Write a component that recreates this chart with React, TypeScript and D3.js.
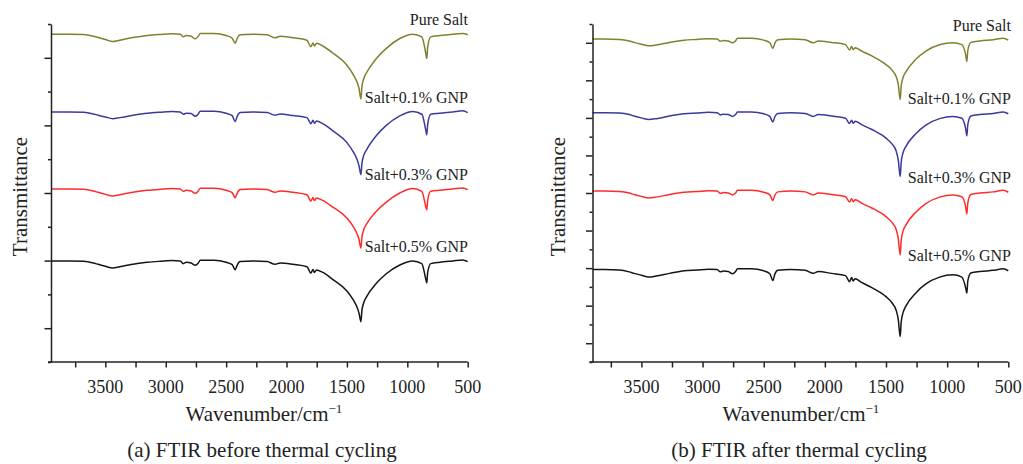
import React, { useEffect, useRef } from "react";
import * as d3 from "d3";

// wavenumber grid (cm-1) shared by every spectrum
const wavenumbers = [
  3950, 3800, 3680, 3600, 3560, 3500, 3440, 3380, 3270, 3150, 3045, 2950, 2880, 2855, 2830, 2790,
  2756, 2730, 2715, 2600, 2500, 2450, 2425, 2409, 2384, 2280, 2160, 2095, 2053, 1946, 1831, 1798,
  1781, 1769, 1752, 1700, 1616, 1500, 1450, 1417, 1400, 1384, 1376, 1360, 1339, 1256, 1174, 1062,
  954, 880, 847, 839, 831, 806, 731, 624, 541, 500,
];

const seriesNames = ["Pure Salt", "Salt+0.1% GNP", "Salt+0.3% GNP", "Salt+0.5% GNP"];
const seriesColors = ["#80802e", "#3a3a9c", "#ff2b2b", "#151515"];

// (a) before thermal cycling, offset transmittance (a.u.)
const beforePureSalt = [
  87.0, 87.0, 86.9, 86.4, 86.0, 85.4, 84.8, 85.2, 86.0, 86.6, 86.9, 87.1, 87.0, 86.2, 86.6, 86.4,
  85.6, 86.4, 87.2, 87.2, 86.6, 85.8, 84.3, 85.7, 86.8, 87.0, 86.8, 85.9, 86.4, 85.9, 85.2, 83.3,
  84.4, 83.5, 84.3, 83.5, 81.4, 77.8, 75.2, 72.9, 71.0, 67.8, 71.4, 73.9, 75.5, 79.8, 82.8, 85.7,
  87.0, 86.2, 81.3, 79.8, 83.3, 86.2, 86.6, 87.0, 87.2, 86.8,
];
const beforeGnp01 = [
  64.0, 64.0, 63.9, 63.4, 63.0, 62.5, 62.0, 62.3, 63.0, 63.6, 63.9, 64.1, 64.0, 63.3, 63.6, 63.5,
  62.7, 63.4, 64.2, 64.2, 63.6, 62.9, 61.1, 62.6, 63.8, 64.0, 63.8, 63.0, 63.4, 62.9, 62.3, 60.5,
  61.5, 60.6, 61.3, 60.5, 58.4, 54.9, 52.3, 50.0, 48.1, 45.4, 48.6, 51.2, 52.7, 57.0, 60.0, 62.8,
  64.1, 63.3, 58.6, 57.2, 60.4, 63.3, 63.6, 64.0, 64.3, 63.8,
];
const beforeGnp03 = [
  41.2, 41.2, 41.1, 40.6, 40.2, 39.6, 39.1, 39.5, 40.2, 40.8, 41.1, 41.3, 41.2, 40.5, 40.8, 40.6,
  39.9, 40.6, 41.4, 41.4, 40.8, 40.1, 38.6, 39.9, 41.0, 41.2, 41.0, 40.2, 40.6, 40.2, 39.5, 37.6,
  38.7, 37.8, 38.5, 37.8, 35.8, 32.6, 30.2, 28.0, 26.3, 23.7, 26.8, 29.2, 30.7, 34.6, 37.3, 40.0,
  41.3, 40.5, 36.0, 35.0, 38.0, 40.5, 40.8, 41.2, 41.5, 41.0,
];
const beforeGnp05 = [
  19.9, 19.9, 19.8, 19.3, 18.9, 18.3, 17.8, 18.2, 18.9, 19.5, 19.8, 20.0, 19.9, 19.1, 19.5, 19.3,
  18.6, 19.3, 20.1, 20.1, 19.5, 18.8, 17.3, 18.6, 19.7, 19.9, 19.7, 18.9, 19.3, 18.9, 18.2, 16.3,
  17.4, 16.5, 17.2, 16.5, 14.4, 11.0, 8.5, 6.3, 4.5, 1.9, 5.2, 7.6, 9.2, 13.3, 16.1, 18.7,
  19.9, 19.1, 14.5, 13.4, 16.6, 19.1, 19.5, 19.9, 20.2, 19.7,
];

// (b) after thermal cycling
const afterPureSalt = [
  81.0, 81.0, 80.9, 80.5, 80.1, 79.6, 79.2, 79.4, 80.1, 80.7, 80.9, 81.1, 81.0, 80.4, 80.6, 80.5,
  80.0, 80.5, 81.2, 81.2, 80.7, 80.0, 78.5, 79.9, 80.8, 81.0, 80.8, 80.0, 80.5, 80.1, 79.5, 78.1,
  79.0, 78.2, 78.7, 77.8, 76.5, 74.2, 72.7, 71.0, 69.0, 64.9, 68.4, 70.8, 72.2, 75.6, 77.8, 79.5,
  80.0, 79.5, 76.5, 75.0, 78.0, 80.1, 80.5, 80.8, 81.2, 80.7,
];
const afterGnp01 = [
  61.4, 61.4, 61.3, 60.9, 60.5, 60.0, 59.6, 59.8, 60.5, 61.1, 61.3, 61.5, 61.4, 60.8, 61.0, 60.9,
  60.4, 60.9, 61.6, 61.6, 61.1, 60.4, 58.9, 60.3, 61.2, 61.4, 61.2, 60.4, 60.9, 60.5, 59.9, 58.5,
  59.4, 58.6, 59.1, 58.2, 56.9, 54.6, 53.0, 51.2, 48.8, 44.4, 48.2, 50.8, 52.3, 55.8, 58.1, 59.8,
  60.4, 59.9, 56.8, 55.2, 58.3, 60.5, 60.9, 61.2, 61.6, 61.1,
];
const afterGnp03 = [
  40.5, 40.5, 40.4, 40.0, 39.6, 39.1, 38.7, 38.9, 39.6, 40.2, 40.4, 40.6, 40.5, 39.9, 40.1, 40.0,
  39.5, 40.0, 40.7, 40.7, 40.2, 39.5, 38.0, 39.4, 40.3, 40.5, 40.3, 39.5, 40.0, 39.6, 39.0, 37.6,
  38.5, 37.7, 38.2, 37.3, 36.0, 33.7, 32.1, 30.3, 27.9, 23.5, 27.3, 29.9, 31.4, 34.9, 37.2, 38.9,
  39.5, 39.0, 36.0, 34.4, 37.4, 39.6, 40.0, 40.3, 40.7, 40.2,
];
const afterGnp05 = [
  19.6, 19.6, 19.5, 19.0, 18.6, 18.1, 17.6, 17.9, 18.6, 19.3, 19.5, 19.7, 19.6, 19.0, 19.2, 19.1,
  18.5, 19.1, 19.8, 19.8, 19.3, 18.5, 16.7, 18.4, 19.4, 19.6, 19.4, 18.6, 19.1, 18.6, 18.0, 16.4,
  17.5, 16.6, 17.2, 16.2, 14.8, 12.4, 10.7, 8.8, 6.4, 1.8, 5.6, 8.2, 9.8, 13.4, 15.8, 17.6,
  18.2, 17.6, 14.5, 13.3, 16.6, 18.7, 19.1, 19.4, 19.8, 19.3,
];

const xTickLabels = [3500, 3000, 2500, 2000, 1500, 1000, 500];
const captions = ["(a) FTIR before thermal cycling", "(b) FTIR after thermal cycling"];

const FONT = "'Liberation Serif', 'Times New Roman', serif";

const panels = [
  {
    id: "a", caption: captions[0],
    series: [beforePureSalt, beforeGnp01, beforeGnp03, beforeGnp05],
    left: 51, right: 467.7, top: 24, bottom: 362,
    xDomain: [3950, 500], yDomain: [-10, 90], yStep: 10,
    titleX: 27, centerX: 264, labelRight: 468,
  },
  {
    id: "b", caption: captions[1],
    series: [afterPureSalt, afterGnp01, afterGnp03, afterGnp05],
    left: 592.5, right: 1008.3, top: 24, bottom: 362,
    xDomain: [3900, 500], yDomain: [-5, 85], yStep: 5,
    titleX: 565, centerX: 801, labelRight: 1011,
  },
];

export default function App() {
  const ref = useRef<SVGSVGElement>(null);

  useEffect(() => {
    const svg = d3.select(ref.current);
    svg.selectAll("*").remove();

    panels.forEach((p) => {
      const x = d3.scaleLinear().domain(p.xDomain).range([p.left, p.right]);
      const y = d3.scaleLinear().domain(p.yDomain).range([p.bottom, p.top]);
      const g = svg.append("g");

      g.append("clipPath").attr("id", "clip-" + p.id)
        .append("rect")
        .attr("x", p.left).attr("y", 0)
        .attr("width", p.right - p.left + 2).attr("height", 464);

      // spectra
      const line = d3.line<number>()
        .x((_, i) => x(wavenumbers[i]))
        .y((d) => y(d))
        .curve(d3.curveMonotoneX);
      p.series.forEach((vals, k) => {
        g.append("path")
          .attr("d", line(vals))
          .attr("fill", "none")
          .attr("stroke", seriesColors[k])
          .attr("stroke-width", 1.5)
          .attr("stroke-linejoin", "round")
          .attr("clip-path", `url(#clip-${p.id})`);
        g.append("text")
          .attr("x", p.labelRight)
          .attr("y", y(vals[vals.length - 1]) - 9.5)
          .attr("text-anchor", "end")
          .attr("font-family", FONT)
          .attr("font-size", 16)
          .attr("fill", "#222")
          .text(seriesNames[k]);
      });

      // y axis: alternating major / minor ticks, no labels
      const yTicks = d3.range(p.yDomain[0], p.yDomain[1] + 0.01, p.yStep);
      const yMajor = yTicks.filter((_, i) => i % 2 === 1);
      const yMinor = yTicks.filter((_, i) => i % 2 === 0);
      const yAxisMinor = g.append("g")
        .attr("transform", `translate(${p.left},0)`)
        .call(d3.axisLeft(y).tickValues(yMinor).tickSize(3).tickSizeOuter(0).tickFormat(() => ""));
      const yAxisMajor = g.append("g")
        .attr("transform", `translate(${p.left},0)`)
        .call(d3.axisLeft(y).tickValues(yMajor).tickSize(6.5).tickSizeOuter(0).tickFormat(() => ""));
      yAxisMajor.select(".domain").remove();

      // x axis
      const xTicks = d3.range(3750, 499, -250);
      const xAxis = g.append("g")
        .attr("transform", `translate(0,${p.bottom})`)
        .call(d3.axisBottom(x).tickValues(xTicks).tickSize(5.5).tickSizeOuter(0).tickFormat(() => ""));
      xAxis.select(".domain").attr("d", `M${p.left - 3},0H${p.right}`);

      [yAxisMinor, yAxisMajor, xAxis].forEach((a) => {
        a.selectAll("path, line").attr("stroke", "#222").attr("stroke-width", 1.5);
      });

      g.selectAll(".xlab-" + p.id)
        .data(xTickLabels)
        .enter().append("text")
        .attr("x", (d) => x(d))
        .attr("y", 393)
        .attr("text-anchor", "middle")
        .attr("font-family", FONT)
        .attr("font-size", 18)
        .attr("fill", "#222")
        .text((d) => d);

      // titles
      const xt = g.append("text")
        .attr("x", p.centerX)
        .attr("y", 421)
        .attr("text-anchor", "middle")
        .attr("font-family", FONT)
        .attr("font-size", 21)
        .attr("fill", "#222");
      xt.append("tspan").text("Wavenumber/cm");
      xt.append("tspan").attr("font-size", 13).attr("dy", -8).text("\u22121");

      g.append("text")
        .attr("transform", `translate(${p.titleX},196.5) rotate(-90)`)
        .attr("text-anchor", "middle")
        .attr("font-family", FONT)
        .attr("font-size", 21)
        .attr("fill", "#222")
        .text("Transmittance");

      g.append("text")
        .attr("x", p.centerX - 2)
        .attr("y", 457)
        .attr("text-anchor", "middle")
        .attr("font-family", FONT)
        .attr("font-size", 21)
        .attr("fill", "#222")
        .text(p.caption);
    });
  }, []);

  return (
    <svg
      ref={ref}
      width={1023}
      height={464}
      style={{ position: "absolute", left: 0, top: 0, background: "#fff" }}
    />
  );
}
